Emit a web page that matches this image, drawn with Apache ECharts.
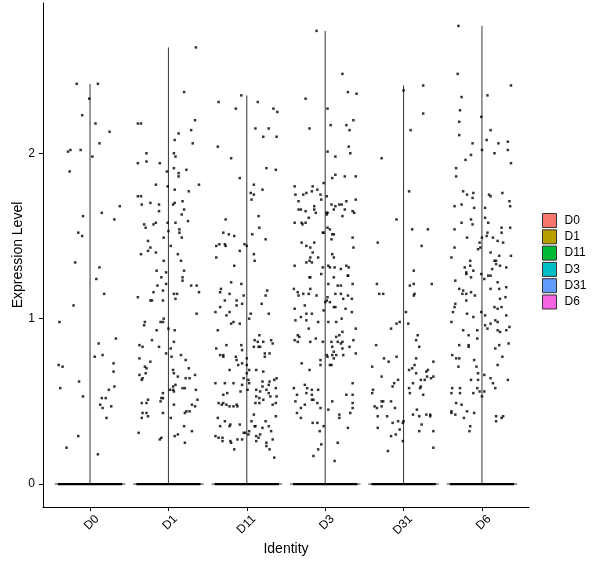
<!DOCTYPE html>
<html>
<head>
<meta charset="utf-8">
<script src="https://cdn.jsdelivr.net/npm/echarts@6/dist/echarts.min.js"></script>
<style>html,body{margin:0;padding:0;background:#fff}#c{width:600px;height:568px}</style>
</head>
<body>
<div id="c"></div>
<script>
// Categories (identities) and their fill colours
const categories = ['D0','D1','D11','D3','D31','D6'];
const colors = ['#F8766D','#B79F00','#00BA38','#00BFC4','#619CFF','#F564E3'];
const yTicks = [0, 1, 2];

// Non-zero expression cells per identity: [jitter, expression level]
const d0Points = [[-0.17,2.42],[0.10,2.42],[-0.01,2.33],[-0.10,2.23],[0.07,2.18],[0.25,2.13],[0.12,2.06],[-0.25,2.02],[-0.12,2.02],[-0.28,2.01],[0.03,1.98],[-0.26,1.89],[0.38,1.68],[0.15,1.64],[-0.09,1.62],[0.31,1.60],[-0.15,1.52],[-0.10,1.50],[-0.19,1.34],[0.12,1.31],[0.08,1.24],[0.18,1.15],[-0.21,1.08],[-0.39,0.98],[0.33,0.88],[0.11,0.85],[0.06,0.77],[0.16,0.78],[-0.40,0.72],[-0.35,0.71],[0.30,0.73],[0.30,0.68],[-0.14,0.62],[-0.38,0.58],[0.31,0.59],[0.24,0.57],[-0.09,0.53],[0.15,0.52],[0.20,0.52],[0.13,0.48],[0.27,0.47],[0.16,0.46],[0.21,0.40],[-0.15,0.29],[-0.30,0.22],[0.10,0.18]];

const d1Points = [[0.35,2.64],[0.20,2.37],[0.34,2.20],[-0.39,2.18],[-0.35,2.18],[0.29,2.14],[0.13,2.12],[0.08,2.08],[0.31,2.06],[-0.28,2.00],[0.07,2.00],[0.09,1.98],[-0.28,1.95],[-0.39,1.94],[-0.11,1.94],[0.07,1.91],[0.23,1.90],[-0.02,1.89],[0.13,1.88],[0.13,1.86],[-0.16,1.81],[-0.01,1.80],[0.39,1.81],[0.08,1.78],[0.26,1.77],[-0.39,1.74],[-0.35,1.74],[0.18,1.71],[-0.23,1.70],[0.08,1.70],[-0.34,1.69],[-0.12,1.69],[0.06,1.69],[0.20,1.66],[-0.12,1.65],[0.17,1.63],[0.25,1.59],[-0.31,1.57],[-0.16,1.58],[-0.19,1.57],[-0.01,1.58],[0.09,1.58],[-0.29,1.55],[0.00,1.53],[0.14,1.54],[0.14,1.52],[-0.06,1.49],[0.17,1.49],[-0.26,1.47],[0.03,1.44],[-0.23,1.43],[-0.26,1.41],[-0.16,1.40],[-0.35,1.39],[0.12,1.39],[-0.06,1.35],[0.16,1.35],[0.20,1.29],[-0.15,1.29],[-0.03,1.28],[-0.09,1.25],[0.18,1.25],[0.18,1.23],[-0.03,1.21],[0.29,1.20],[0.36,1.20],[-0.14,1.20],[-0.07,1.17],[0.39,1.16],[-0.19,1.16],[0.07,1.15],[0.11,1.15],[-0.39,1.13],[-0.21,1.11],[-0.23,1.11],[-0.07,1.11],[0.09,1.12],[0.36,1.03],[-0.06,1.00],[-0.30,0.98],[-0.10,0.98],[-0.07,0.98],[-0.31,0.96],[0.00,0.94],[-0.15,0.93],[0.08,0.93],[-0.21,0.87],[0.07,0.86],[-0.37,0.84],[-0.12,0.83],[-0.33,0.83],[0.03,0.82],[-0.03,0.79],[0.16,0.78],[0.04,0.77],[0.22,0.75],[-0.37,0.76],[-0.23,0.74],[-0.30,0.71],[-0.28,0.70],[0.26,0.70],[0.06,0.69],[0.07,0.67],[-0.29,0.67],[-0.37,0.66],[0.12,0.65],[0.34,0.66],[-0.33,0.64],[-0.34,0.63],[0.22,0.64],[0.27,0.64],[0.18,0.58],[0.09,0.60],[0.21,0.58],[0.06,0.59],[0.06,0.57],[0.07,0.56],[0.02,0.57],[0.35,0.57],[-0.07,0.55],[-0.07,0.52],[-0.09,0.52],[-0.26,0.51],[0.37,0.51],[-0.10,0.50],[-0.34,0.49],[-0.28,0.49],[0.07,0.48],[0.30,0.48],[0.34,0.47],[0.27,0.44],[0.23,0.44],[0.21,0.43],[-0.33,0.43],[-0.28,0.43],[-0.07,0.43],[-0.26,0.41],[-0.34,0.40],[0.03,0.40],[0.20,0.35],[-0.38,0.31],[0.30,0.32],[0.12,0.30],[-0.09,0.28],[-0.11,0.27],[0.08,0.29],[0.21,0.25]];

const d11Points = [[-0.07,2.35],[-0.36,2.31],[0.14,2.31],[-0.14,2.27],[0.34,2.27],[0.39,2.25],[0.11,2.15],[0.28,2.15],[0.21,2.10],[0.38,2.10],[-0.37,2.04],[-0.20,1.97],[0.25,1.91],[0.37,1.90],[-0.09,1.85],[0.09,1.81],[0.20,1.78],[0.05,1.76],[0.09,1.75],[0.06,1.72],[0.15,1.62],[-0.27,1.60],[0.16,1.55],[-0.30,1.52],[-0.23,1.51],[-0.16,1.50],[0.07,1.51],[0.24,1.48],[-0.39,1.44],[-0.35,1.45],[-0.28,1.45],[-0.27,1.44],[-0.03,1.45],[0.00,1.44],[-0.09,1.41],[0.09,1.39],[-0.39,1.37],[0.10,1.35],[-0.16,1.32],[-0.20,1.22],[-0.07,1.21],[-0.33,1.18],[-0.34,1.16],[0.26,1.17],[0.24,1.14],[-0.22,1.15],[-0.04,1.14],[-0.28,1.11],[-0.13,1.11],[0.19,1.09],[-0.06,1.09],[-0.13,1.08],[-0.34,1.07],[-0.40,1.04],[-0.22,1.04],[0.05,1.03],[-0.26,1.02],[0.28,1.03],[0.03,1.00],[-0.17,0.98],[-0.20,0.97],[-0.09,0.97],[-0.37,0.93],[0.16,0.90],[0.10,0.87],[0.14,0.86],[0.21,0.86],[0.31,0.87],[0.33,0.85],[-0.26,0.84],[-0.07,0.84],[-0.39,0.82],[-0.06,0.81],[0.09,0.83],[0.17,0.83],[0.15,0.83],[-0.34,0.78],[-0.30,0.77],[-0.30,0.78],[0.29,0.79],[0.23,0.79],[0.23,0.77],[-0.14,0.77],[-0.13,0.75],[0.00,0.76],[-0.06,0.73],[-0.11,0.72],[0.00,0.72],[-0.22,0.69],[0.03,0.69],[0.12,0.69],[0.21,0.68],[0.00,0.67],[-0.04,0.64],[0.38,0.64],[0.02,0.63],[0.35,0.63],[0.29,0.62],[0.20,0.62],[-0.40,0.61],[-0.28,0.61],[-0.17,0.61],[0.03,0.61],[-0.06,0.60],[0.20,0.59],[0.37,0.58],[0.28,0.60],[0.01,0.57],[0.12,0.57],[0.25,0.57],[-0.08,0.56],[-0.25,0.55],[0.17,0.56],[0.28,0.55],[-0.30,0.54],[0.12,0.53],[0.30,0.53],[0.38,0.53],[0.16,0.52],[0.21,0.51],[-0.36,0.49],[-0.30,0.49],[-0.26,0.48],[-0.32,0.48],[-0.22,0.47],[-0.17,0.47],[-0.13,0.48],[-0.12,0.47],[0.11,0.49],[0.16,0.49],[0.33,0.48],[0.37,0.49],[-0.37,0.40],[0.09,0.42],[0.37,0.41],[-0.28,0.38],[-0.21,0.36],[-0.09,0.36],[-0.34,0.35],[-0.22,0.35],[0.06,0.38],[0.24,0.38],[0.10,0.35],[0.11,0.35],[0.20,0.34],[0.28,0.35],[0.31,0.32],[0.03,0.32],[-0.04,0.31],[-0.02,0.31],[0.17,0.30],[-0.40,0.29],[-0.36,0.28],[-0.31,0.28],[0.12,0.29],[0.15,0.28],[0.02,0.30],[-0.31,0.26],[-0.21,0.26],[-0.20,0.25],[-0.12,0.27],[-0.06,0.27],[0.12,0.26],[0.33,0.27],[0.25,0.25],[0.25,0.23],[-0.16,0.21],[0.29,0.21],[0.35,0.16]];

const d3Points = [[-0.11,2.74],[0.22,2.48],[0.29,2.37],[0.40,2.36],[-0.25,2.33],[0.03,2.27],[0.36,2.20],[0.07,2.17],[0.27,2.17],[0.31,2.14],[-0.20,2.15],[0.30,2.04],[0.03,2.01],[0.32,2.00],[0.13,1.98],[0.13,1.87],[0.25,1.86],[0.39,1.86],[0.09,1.85],[-0.02,1.82],[-0.39,1.80],[-0.16,1.80],[-0.10,1.78],[-0.17,1.77],[-0.24,1.76],[-0.38,1.75],[-0.28,1.75],[-0.06,1.75],[-0.05,1.72],[0.02,1.74],[0.39,1.72],[0.27,1.71],[-0.34,1.71],[0.08,1.69],[0.13,1.68],[0.18,1.69],[0.21,1.69],[-0.14,1.68],[-0.34,1.66],[-0.31,1.66],[-0.25,1.65],[-0.14,1.66],[0.11,1.66],[0.25,1.66],[0.03,1.64],[-0.12,1.64],[0.02,1.63],[0.02,1.64],[0.35,1.65],[0.37,1.64],[0.22,1.62],[-0.21,1.61],[-0.39,1.58],[-0.30,1.58],[-0.25,1.58],[-0.29,1.57],[0.03,1.55],[0.06,1.54],[-0.02,1.52],[-0.03,1.52],[0.09,1.51],[0.11,1.51],[0.35,1.49],[0.08,1.48],[-0.30,1.46],[-0.14,1.46],[-0.24,1.44],[-0.19,1.43],[0.36,1.43],[-0.16,1.40],[0.09,1.39],[-0.09,1.37],[-0.19,1.37],[0.11,1.37],[-0.20,1.35],[-0.17,1.34],[-0.24,1.34],[-0.39,1.32],[0.04,1.32],[-0.03,1.31],[0.06,1.31],[0.27,1.32],[0.30,1.31],[0.12,1.31],[0.20,1.30],[-0.05,1.27],[0.29,1.26],[0.29,1.26],[-0.20,1.25],[-0.19,1.25],[0.11,1.25],[0.04,1.21],[0.16,1.20],[0.20,1.20],[0.35,1.21],[-0.40,1.18],[-0.19,1.18],[-0.35,1.16],[-0.28,1.15],[-0.21,1.15],[-0.34,1.14],[-0.11,1.14],[0.13,1.15],[0.20,1.15],[0.29,1.14],[0.03,1.13],[0.02,1.11],[0.06,1.10],[0.00,1.10],[0.23,1.12],[0.34,1.12],[-0.26,1.08],[0.11,1.07],[0.13,1.07],[0.26,1.06],[-0.39,1.06],[-0.02,1.05],[0.34,1.04],[-0.24,1.03],[-0.17,1.03],[-0.31,1.01],[0.21,1.00],[-0.38,0.99],[-0.24,0.99],[-0.09,0.98],[0.04,0.98],[0.14,0.98],[-0.21,0.94],[0.39,0.94],[0.22,0.92],[-0.35,0.90],[-0.33,0.89],[0.14,0.89],[0.18,0.90],[-0.39,0.87],[-0.12,0.88],[-0.35,0.86],[-0.19,0.86],[0.08,0.86],[-0.03,0.86],[0.16,0.86],[0.36,0.87],[0.22,0.86],[0.20,0.85],[0.09,0.83],[0.31,0.83],[0.22,0.82],[0.11,0.80],[0.39,0.79],[0.23,0.78],[0.02,0.78],[0.03,0.77],[0.09,0.78],[0.14,0.78],[-0.06,0.75],[0.11,0.76],[-0.30,0.73],[-0.06,0.72],[0.06,0.72],[0.08,0.72],[-0.20,0.69],[-0.40,0.58],[-0.26,0.60],[-0.23,0.58],[-0.17,0.57],[-0.09,0.57],[0.35,0.61],[-0.36,0.54],[-0.24,0.55],[-0.17,0.54],[0.27,0.54],[0.35,0.54],[-0.17,0.51],[-0.15,0.51],[-0.10,0.49],[0.09,0.50],[0.35,0.49],[-0.38,0.50],[-0.26,0.48],[-0.31,0.46],[0.35,0.46],[-0.06,0.46],[0.04,0.45],[-0.36,0.43],[0.18,0.42],[0.32,0.43],[-0.31,0.40],[0.18,0.40],[-0.16,0.37],[-0.10,0.37],[-0.02,0.35],[0.29,0.34],[-0.07,0.32],[0.16,0.25],[-0.05,0.24],[-0.09,0.21],[-0.15,0.17],[0.12,0.14]];

const d31Points = [[0.25,2.41],[0.00,2.38],[0.25,2.24],[0.09,2.14],[-0.28,1.97],[0.07,1.77],[-0.09,1.60],[0.11,1.54],[0.31,1.54],[-0.33,1.46],[0.23,1.44],[0.13,1.29],[-0.34,1.21],[0.08,1.20],[0.13,1.21],[0.36,1.21],[-0.31,1.15],[-0.26,1.15],[0.14,1.15],[0.13,1.14],[0.03,1.04],[-0.05,0.98],[-0.09,0.97],[0.06,0.97],[-0.16,0.94],[0.18,0.90],[0.16,0.87],[-0.35,0.84],[0.20,0.83],[-0.25,0.76],[-0.09,0.77],[-0.19,0.74],[0.16,0.76],[0.38,0.74],[0.14,0.72],[-0.40,0.71],[0.07,0.69],[0.11,0.70],[0.16,0.67],[0.29,0.68],[0.31,0.69],[0.30,0.65],[0.38,0.65],[0.35,0.64],[-0.28,0.65],[0.22,0.63],[0.27,0.63],[-0.07,0.63],[0.12,0.61],[-0.12,0.61],[-0.14,0.59],[0.22,0.59],[0.21,0.58],[0.07,0.58],[-0.39,0.57],[-0.40,0.55],[0.08,0.55],[0.25,0.54],[-0.28,0.50],[-0.26,0.50],[-0.16,0.50],[-0.37,0.47],[-0.34,0.46],[-0.28,0.47],[-0.11,0.46],[0.17,0.45],[-0.33,0.41],[-0.21,0.41],[0.12,0.42],[0.20,0.41],[0.29,0.42],[0.34,0.42],[0.34,0.41],[-0.07,0.38],[0.00,0.38],[-0.14,0.37],[-0.01,0.37],[0.23,0.36],[-0.33,0.34],[-0.05,0.33],[0.20,0.32],[0.38,0.32],[-0.10,0.30],[-0.16,0.29],[-0.01,0.26],[0.38,0.22],[-0.20,0.20]];

const d6Points = [[-0.30,2.77],[-0.31,2.48],[0.37,2.41],[0.07,2.35],[-0.26,2.34],[-0.28,2.26],[-0.01,2.22],[-0.29,2.19],[0.11,2.14],[-0.29,2.11],[0.06,2.08],[-0.12,2.06],[0.21,2.06],[0.33,2.07],[0.00,2.02],[0.33,2.02],[0.16,2.00],[-0.14,1.99],[-0.21,1.96],[0.37,1.94],[-0.33,1.91],[-0.33,1.86],[-0.24,1.77],[-0.19,1.75],[-0.11,1.76],[-0.12,1.73],[0.09,1.75],[0.11,1.74],[0.26,1.76],[0.35,1.71],[-0.35,1.68],[-0.26,1.69],[-0.10,1.67],[0.04,1.67],[0.36,1.68],[0.04,1.61],[-0.14,1.60],[-0.12,1.57],[-0.26,1.58],[0.08,1.58],[0.25,1.55],[0.36,1.55],[-0.35,1.54],[0.07,1.52],[0.25,1.52],[0.06,1.50],[-0.19,1.49],[0.00,1.49],[0.14,1.49],[0.20,1.47],[0.27,1.46],[-0.03,1.46],[-0.02,1.43],[-0.05,1.42],[-0.35,1.43],[0.11,1.40],[-0.39,1.37],[0.22,1.38],[0.37,1.38],[-0.15,1.35],[0.16,1.35],[0.18,1.35],[0.18,1.33],[-0.22,1.31],[-0.15,1.32],[0.23,1.32],[0.31,1.31],[0.13,1.30],[-0.11,1.29],[-0.20,1.28],[-0.20,1.27],[-0.01,1.27],[0.08,1.26],[0.11,1.26],[-0.14,1.25],[0.03,1.24],[-0.34,1.23],[0.20,1.22],[0.11,1.18],[0.22,1.18],[0.31,1.19],[-0.29,1.18],[-0.24,1.17],[-0.20,1.15],[-0.25,1.15],[-0.14,1.16],[-0.09,1.14],[0.23,1.12],[0.30,1.13],[-0.20,1.11],[-0.34,1.09],[-0.35,1.07],[0.16,1.07],[0.25,1.07],[0.20,1.06],[-0.37,1.04],[-0.01,1.04],[-0.19,1.03],[0.04,1.02],[0.31,1.02],[-0.11,1.01],[-0.39,0.98],[0.17,0.99],[0.20,0.98],[0.11,0.97],[0.04,0.96],[0.07,0.94],[0.20,0.93],[0.23,0.92],[0.31,0.93],[0.35,0.95],[-0.24,0.93],[-0.06,0.93],[-0.17,0.90],[-0.06,0.88],[-0.29,0.84],[-0.17,0.84],[-0.17,0.83],[0.22,0.84],[0.34,0.85],[0.17,0.82],[-0.38,0.78],[-0.33,0.76],[-0.29,0.76],[-0.10,0.75],[0.26,0.77],[-0.30,0.71],[-0.07,0.71],[0.20,0.72],[-0.05,0.67],[0.03,0.66],[-0.14,0.63],[-0.05,0.63],[0.11,0.64],[0.14,0.61],[0.33,0.63],[0.17,0.58],[-0.38,0.58],[-0.28,0.58],[-0.06,0.58],[-0.39,0.55],[-0.28,0.55],[-0.11,0.55],[-0.03,0.56],[0.03,0.56],[0.00,0.53],[-0.33,0.49],[-0.26,0.48],[-0.39,0.43],[-0.39,0.44],[-0.34,0.42],[-0.19,0.44],[-0.10,0.43],[-0.23,0.40],[0.18,0.41],[0.18,0.38],[0.25,0.40],[0.27,0.41],[-0.15,0.35],[-0.16,0.32]];

const pointSets = [d0Points, d1Points, d11Points, d3Points, d31Points, d6Points];

// Build scatter data: position k+1 plus jitter
const scatterData = [];
pointSets.forEach((pts, k) => {
  pts.forEach(p => scatterData.push([k + 1 + p[0], p[1]]));
});
const violinMax = pointSets.map(pts => Math.max.apply(null, pts.map(p => p[1])));

const catPositions = categories.map((c, i) => i + 1);

const chart = echarts.init(document.getElementById('c'), null, {renderer: 'canvas'});

const violinSeries = categories.map((c, i) => ({
  name: c,
  type: 'custom',
  color: colors[i],
  silent: true,
  z: 2,
  data: [[i + 1, violinMax[i]]],
  renderItem: function (params, api) {
    const x = api.value(0), m = api.value(1);
    const p0 = api.coord([x, 0]);
    const pt = api.coord([x, m]);
    const pl = api.coord([x - 0.45, 0]);
    const pr = api.coord([x + 0.45, 0]);
    const ql = api.coord([x - 0.41, 0]);
    const qr = api.coord([x + 0.41, 0]);
    return {
      type: 'group',
      children: [
        {type: 'line', shape: {x1: pl[0], y1: p0[1], x2: pr[0], y2: p0[1]}, style: {stroke: '#333', lineWidth: 1}},
        {type: 'line', shape: {x1: p0[0], y1: p0[1], x2: pt[0], y2: pt[1]}, style: {stroke: '#333', lineWidth: 1}},
        {type: 'rect', shape: {x: ql[0], y: p0[1] - 1.2, width: qr[0] - ql[0], height: 2.4}, style: {fill: '#000'}}
      ]
    };
  }
}));

const font = 'Liberation Sans, Arial, sans-serif';

chart.setOption({
  animation: false,
  backgroundColor: '#fff',
  grid: {left: 43, right: 71, top: 3, bottom: 61, containLabel: false, outerBoundsMode: 'none'},
  legend: {
    orient: 'vertical',
    left: 542,
    top: 213,
    padding: 0,
    itemWidth: 14,
    itemHeight: 14,
    itemGap: 1.3,
    icon: 'rect',
    selectedMode: false,
    textStyle: {fontSize: 12, color: '#000', fontFamily: font, padding: [0, 0, 0, 3]},
    data: categories.map((c, i) => ({name: c, itemStyle: {color: colors[i], borderColor: '#333', borderWidth: 1}}))
  },
  xAxis: {
    type: 'value',
    min: 0.4,
    max: 6.6,
    name: 'Identity',
    nameLocation: 'middle',
    nameGap: 35,
    nameMoveOverlap: false,
    nameTextStyle: {fontSize: 14, color: '#000', fontFamily: font},
    axisLine: {onZero: false, lineStyle: {color: '#000', width: 1}},
    splitLine: {show: false},
    axisTick: {customValues: catPositions, length: 4, lineStyle: {color: '#000'}},
    axisLabel: {
      customValues: catPositions,
      formatter: v => categories[Math.round(v) - 1],
      rotate: 45,
      align: 'right',
      verticalAlign: 'top',
      padding: [4, 0, 0, 0],
      margin: 3,
      fontSize: 12,
      color: '#000',
      fontFamily: font
    }
  },
  yAxis: {
    type: 'value',
    min: -0.1385,
    max: 2.9085,
    name: 'Expression Level',
    nameLocation: 'middle',
    nameGap: 18,
    nameMoveOverlap: false,
    nameTextStyle: {fontSize: 14, color: '#000', fontFamily: font},
    axisLine: {show: true, onZero: false, lineStyle: {color: '#000', width: 1}},
    splitLine: {show: false},
    axisTick: {show: true, customValues: yTicks, length: 4, lineStyle: {color: '#000'}},
    axisLabel: {customValues: yTicks, margin: 8, fontSize: 12, color: '#000', fontFamily: font}
  },
  series: violinSeries.concat([{
    name: 'cells',
    type: 'scatter',
    silent: true,
    z: 3,
    symbol: 'rect',
    symbolSize: 2.5,
    itemStyle: {color: '#000'},
    data: scatterData
  }])
});
</script>
</body>
</html>
